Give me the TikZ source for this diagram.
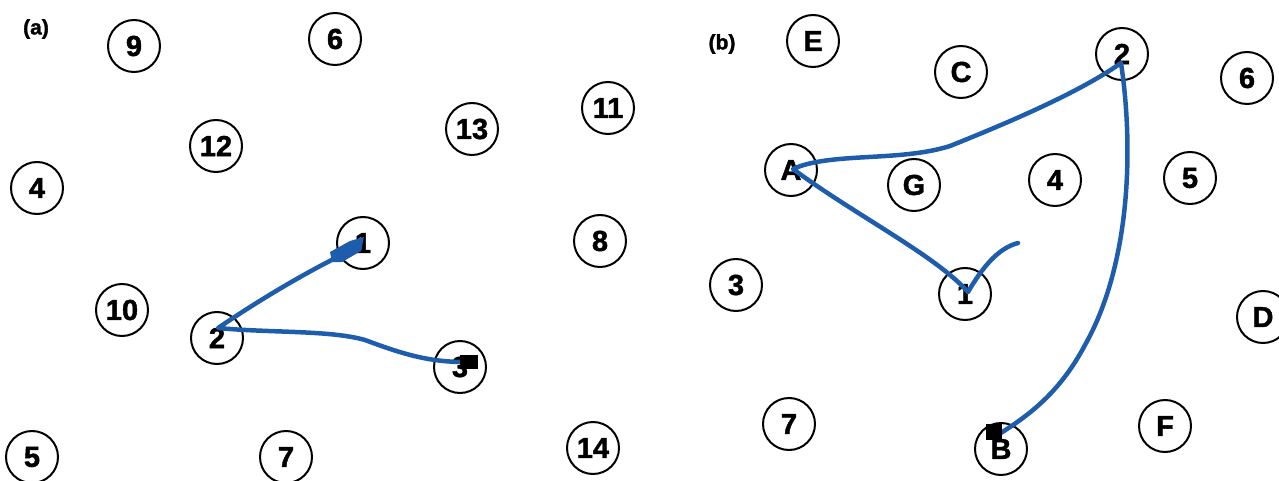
\documentclass[tikz,border=0pt]{standalone}
\usepackage{fontspec}
\setmainfont{Liberation Sans}
\newfontfamily\nodefont{Liberation Sans}[FakeBold=1.5]
\definecolor{trailblue}{RGB}{30,92,172}
\begin{document}
\begin{tikzpicture}[x=1pt,y=-1pt,
  tnode/.style={circle,draw=black,line width=2pt,minimum size=52pt,inner sep=0pt,
    font=\nodefont\bfseries\fontsize{29}{29}\selectfont},
  plabel/.style={font=\nodefont\bfseries\fontsize{21}{21}\selectfont},
  trail/.style={draw=trailblue,line width=4.5pt,line cap=round,line join=round},
  endsq/.style={fill=black}]
\useasboundingbox (0,0) rectangle (1279,481);
% panel (a)
\node[plabel] (la) at (36,29) {(a)};
\node[tnode] (a9) at (134,46) {9};
\node[tnode] (a6) at (335,39) {6};
\node[tnode] (a12) at (216,146) {12};
\node[tnode] (a13) at (472,129) {13};
\node[tnode] (a11) at (608,108) {11};
\node[tnode] (a4) at (37,188) {4};
\node[tnode] (a1) at (363,243) {1};
\node[tnode] (a8) at (600,241) {8};
\node[tnode] (a10) at (122,310) {10};
\node[tnode] (a2) at (217,338) {2};
\node[tnode] (a3) at (460,367) {3};
\node[tnode] (a5) at (32,457) {5};
\node[tnode] (a7) at (286,457) {7};
\node[tnode] (a14) at (593,448) {14};
% panel (b)
\node[plabel] (lb) at (722,44) {(b)};
\node[tnode] (bE) at (813,41) {E};
\node[tnode] (bC) at (961,72) {C};
\node[tnode] (b2) at (1122,54) {2};
\node[tnode] (b6) at (1247,78) {6};
\node[tnode] (bA) at (791,170) {A};
\node[tnode] (bG) at (914,185) {G};
\node[tnode] (b4) at (1055,180) {4};
\node[tnode] (b5) at (1190,178) {5};
\node[tnode] (b3) at (736,285) {3};
\node[tnode] (b1) at (965,294) {1};
\node[tnode] (bD) at (1263,317) {D};
\node[tnode] (b7) at (789,424) {7};
\node[tnode] (bB) at (1001,449) {B};
\node[tnode] (bF) at (1165,426) {F};
% trail (a)
\coordinate (a1e) at (356,248);
\coordinate (a2t) at (218,328);
\coordinate (a3e) at (465,362);
\draw[trail] (a1e) .. controls (305,272) and (255,303) .. (a2t)
  .. controls (270,333) and (330,330) .. (365,340)
  .. controls (405,355) and (430,362) .. (a3e);
\fill[trailblue] (330,252) -- (350,241) -- (364,237) -- (361,251) -- (342,262) -- (332,262) -- cycle;
\fill[endsq] (460,355) rectangle (478,369);
% trail (b)
\coordinate (bs) at (1018,243);
\coordinate (b1t) at (968,292);
\coordinate (bAt) at (793,169);
\coordinate (b2t) at (1121,63);
\coordinate (bBt) at (996,436);
\draw[trail] (bs) .. controls (998,248) and (982,268) .. (b1t)
  .. controls (935,255) and (855,215) .. (bAt)
  .. controls (830,152) and (900,162) .. (950,146)
  .. controls (1010,122) and (1080,92) .. (b2t)
  .. controls (1134,150) and (1130,265) .. (1085,345)
  .. controls (1060,392) and (1030,415) .. (bBt);
\fill[endsq] (986,424) rectangle (1002,440);
\end{tikzpicture}
\end{document}
